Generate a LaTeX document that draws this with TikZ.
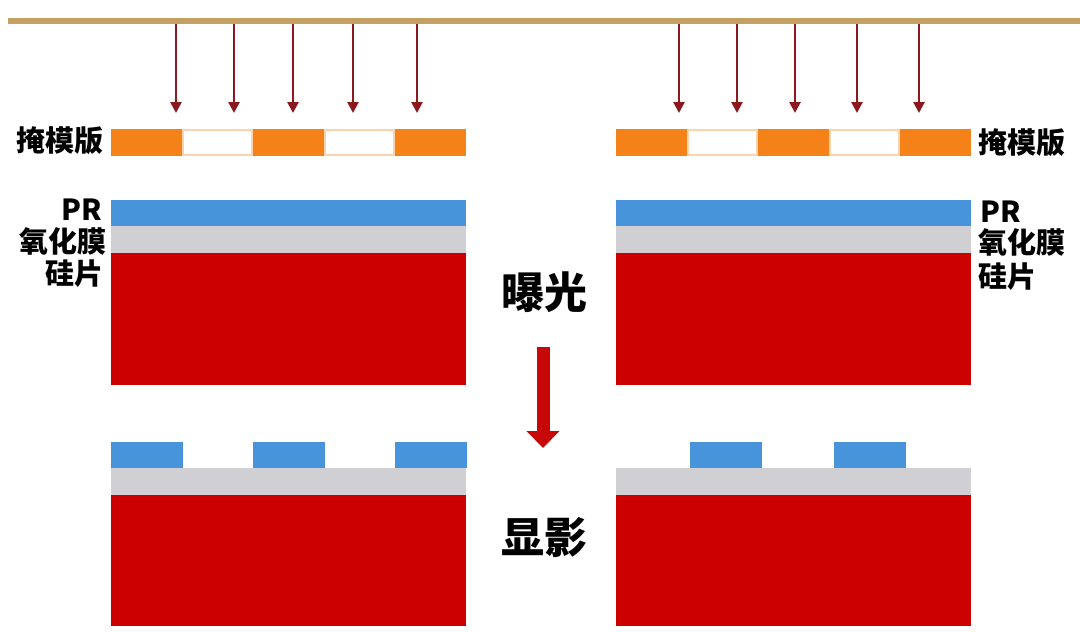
\documentclass[tikz,border=0pt]{standalone}
\usepackage{fontspec}
\usetikzlibrary{arrows.meta}
\newfontfamily\cjk{Noto Sans CJK SC}
\definecolor{rulecolor}{RGB}{196,160,98}
\definecolor{beamcolor}{RGB}{140,25,30}
\definecolor{maskcolor}{RGB}{245,130,25}
\definecolor{prcolor}{RGB}{72,148,218}
\definecolor{oxidecolor}{RGB}{208,208,212}
\definecolor{siliconcolor}{RGB}{204,0,0}
\definecolor{stepcolor}{RGB}{200,8,8}

\begin{document}
\begin{tikzpicture}[
    x=1pt, y=-1pt,
    beam/.style={-{Triangle[length=11pt,width=11pt]}, line width=2.6pt, draw=beamcolor},
    bigarrow/.style={-{Triangle[length=17pt,width=32pt]}, line width=13pt, draw=stepcolor},
    layername/.style={font=\cjk\bfseries\fontsize{29}{29}\selectfont, inner sep=0pt},
    stepname/.style={font=\cjk\bfseries\fontsize{43}{43}\selectfont, inner sep=0pt}
]
    \useasboundingbox (0,0) rectangle (1080,632);
    \fill[white] (0,0) rectangle (1080,632);

    % Light source
    \coordinate (lampL) at (8,21);
    \coordinate (lampR) at (1080,21);
    \draw[line width=5.5pt, draw=rulecolor] (lampL) -- (lampR);

    % Light beams
    \foreach \x [count=\i] in {176,234,293,353,417,679,737,795,857,919} {
        \coordinate (beamtop\i) at (\x,24);
        \coordinate (beamend\i) at (\x,113);
        \draw[beam] (beamtop\i) -- (beamend\i);
    }

    % Masks
    \foreach \x in {111,616} {
        \fill[maskcolor] (\x,129) rectangle ++(355,27);
        \filldraw[fill=white, draw=maskcolor!35, line width=1.5pt] (\x+72,130) rectangle ++(69,25);
        \filldraw[fill=white, draw=maskcolor!35, line width=1.5pt] (\x+214,130) rectangle ++(69,25);
    }

    % Wafers before developing
    \foreach \x in {111,616} {
        \fill[prcolor] (\x,200) rectangle ++(355,26);
        \fill[oxidecolor] (\x,226) rectangle ++(355,27);
        \fill[siliconcolor] (\x,253) rectangle ++(355,132);
    }

    % Wafers after developing
    \foreach \x in {111,253,395,690,834} {
        \fill[prcolor] (\x,442) rectangle ++(72,26);
    }
    \foreach \x in {111,616} {
        \fill[oxidecolor] (\x,468) rectangle ++(355,27);
        \fill[siliconcolor] (\x,495) rectangle ++(355,131);
    }

    % Labels
    \node[layername, anchor=east] (maskL) at (104,141) {掩模版};
    \node[layername, anchor=east] (prL) at (102,210) {PR};
    \node[layername, anchor=east] (oxideL) at (107,241) {氧化膜};
    \node[layername, anchor=east] (siliconL) at (104,274) {硅片};
    \node[layername, anchor=west] (maskR) at (978,143) {掩模版};
    \node[layername, anchor=west] (prR) at (980,212) {PR};
    \node[layername, anchor=west] (oxideR) at (978,242) {氧化膜};
    \node[layername, anchor=west] (siliconR) at (978,277) {硅片};

    % Steps
    \node[stepname] (expose) at (544,292) {曝光};
    \node[stepname] (develop) at (544,538) {显影};
    \coordinate (stepfrom) at (543,347);
    \coordinate (stepto) at (543,448);
    \draw[bigarrow] (stepfrom) -- (stepto);
\end{tikzpicture}
\end{document}
